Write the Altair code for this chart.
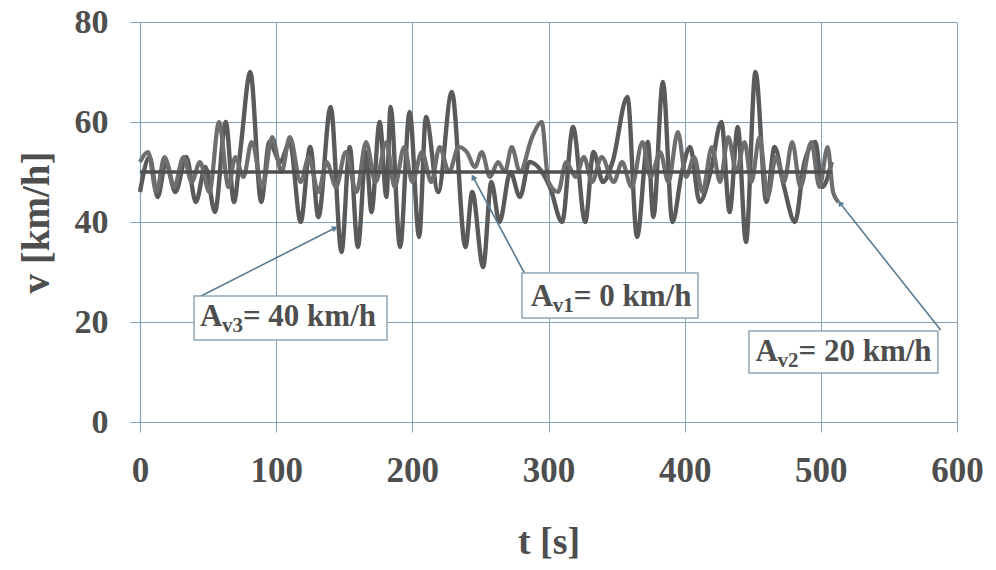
import math
import altair as alt
import pandas as pd

FONT = "Liberation Serif"
TEXT = "#4e4e4e"
GRID = "#86a2b6"
ARROW = "#5b7b91"

# ---- data ----
av1_t = [0, 508]
av1_v = [50, 50]

av2_t = [0, 6, 12, 18, 25, 32, 38, 44, 51, 58, 65, 70, 76, 82, 90, 97, 104, 110, 118, 124,
         131, 137, 144, 151, 159, 166, 173, 181, 187, 194, 200, 207, 214, 220, 227, 234, 240, 246, 251, 257,
         263, 268, 273, 279, 288, 295, 300, 307, 313, 320, 326, 332, 339, 348, 354, 361, 369, 375, 382, 388,
         395, 401, 407, 413, 420, 426, 432, 438, 444, 449, 455, 461, 467, 473, 479, 485, 493, 499, 505, 509, 513]
av2_v = [52, 54, 46, 53, 47, 53, 48, 52, 46, 60, 47, 53, 49, 56, 47, 57, 50, 57, 48, 53,
         46, 52, 47, 54, 46, 56, 48, 56, 47, 55, 48, 54, 48, 55, 50, 55, 54, 51, 54, 49,
         52, 50, 55, 50, 57, 60, 48, 46, 52, 49, 53, 48, 53, 48, 52, 47, 56, 49, 54, 48,
         58, 49, 53, 46, 55, 48, 57, 50, 56, 48, 57, 45, 53, 48, 56, 47, 56, 47, 55, 46, 44]

av3_t = [0, 7, 13, 19, 26, 34, 41, 48, 55, 63, 69, 74, 81, 89, 95, 103, 110, 118, 125, 131,
         140, 148, 154, 160, 166, 170, 176, 181, 184, 191, 198, 205, 210, 219, 229, 239, 244, 252, 258, 264,
         272, 279, 286, 301, 310, 318, 327, 333, 340, 347, 358, 365, 373, 377, 384, 391, 398, 404, 411, 419,
         427, 433, 439, 445, 452, 460, 466, 473, 481, 488, 496, 501, 508]
av3_v = [46, 53, 45, 52, 46, 53, 44, 51, 42, 60, 44, 55, 70, 44, 56, 52, 56, 40, 55, 41,
         63, 34, 55, 35, 54, 42, 60, 45, 63, 35, 62, 37, 61, 46, 66, 35, 46, 31, 48, 40,
         50, 45, 52, 47, 40, 59, 40, 54, 48, 52, 65, 37, 56, 41, 68, 40, 50, 55, 44, 50,
         60, 42, 59, 36, 70, 44, 55, 47, 40, 52, 56, 47, 52]

x_ticks = [0, 100, 200, 300, 400, 500, 600]
y_ticks = [0, 20, 40, 60, 80]

# annotation labels
lab_sub = ["v3", "v1", "v2"]
lab_rest = ["= 40 km/h", "= 0 km/h", "= 20 km/h"]
lab_t = [44, 287, 452]
lab_v = [19.2, 23.2, 12.2]
box_t1 = [39.7, 280.5, 447.2]
box_t2 = [181.4, 409.8, 586.0]
box_v1 = [25.2, 29.8, 18.2]
box_v2 = [16.4, 20.8, 9.8]
arr_t1 = [41.9, 282.7, 588.0]
arr_v1 = [24.8, 29.6, 18.4]
arr_t2 = [143.2, 244.6, 514.0]
arr_v2 = [38.8, 49.0, 43.8]

W, H = 817, 400
XD, YD = [0, 600], [0, 80]

df1 = pd.DataFrame({"t": av1_t, "v": av1_v})
df2 = pd.DataFrame({"t": av2_t, "v": av2_v})
df3 = pd.DataFrame({"t": av3_t, "v": av3_v})
dft = pd.DataFrame({"t": lab_t, "v": lab_v, "a": ["A"] * 3, "sub": lab_sub, "rest": lab_rest})
dfb = pd.DataFrame({"t": box_t1, "t2": box_t2, "v": box_v1, "v2": box_v2})
angles = []
for a, b, c, d in zip(arr_t1, arr_v1, arr_t2, arr_v2):
    dxp = (c - a) * W / (XD[1] - XD[0])
    dyp = -(d - b) * H / (YD[1] - YD[0])
    angles.append(math.degrees(math.atan2(dyp, dxp)) % 360)
dfa = pd.DataFrame({"t": arr_t1, "v": arr_v1, "t2": arr_t2, "v2": arr_v2, "ang": angles})

xs = alt.Scale(domain=XD, nice=False, zero=False)
ys = alt.Scale(domain=YD, nice=False, zero=False)

x_axis = alt.Axis(values=x_ticks, title="t [s]", grid=True, gridColor=GRID, gridWidth=1,
                  domainColor=GRID, domainWidth=1.2, tickColor=GRID, tickSize=10,
                  labelFont=FONT, labelFontSize=35, labelFontWeight="bold", labelColor=TEXT,
                  labelPadding=21, labelFlush=False,
                  titleFont=FONT, titleFontSize=38, titleFontWeight="bold", titleColor=TEXT,
                  titleBaseline="alphabetic", titleY=131)
y_axis = alt.Axis(values=y_ticks, title="v [km/h]", grid=True, gridColor=GRID, gridWidth=1,
                  domainColor=GRID, domainWidth=1.2, tickColor=GRID, tickSize=10,
                  labelFont=FONT, labelFontSize=34, labelFontWeight="bold", labelColor=TEXT,
                  labelPadding=22, labelFlush=False,
                  titleFont=FONT, titleFontSize=39, titleFontWeight="bold", titleColor=TEXT,
                  titleBaseline="alphabetic", titleX=-92, titleY=200, titleAngle=270,
                  titleAlign="center")

X = alt.X("t:Q", scale=xs, axis=x_axis)
Y = alt.Y("v:Q", scale=ys, axis=y_axis)

l3 = alt.Chart(df3).mark_line(color="#5a5a5a", strokeWidth=4.4, interpolate="monotone").encode(x=X, y=Y)
l2 = alt.Chart(df2).mark_line(color="#6e6e6e", strokeWidth=4.2, interpolate="monotone").encode(x=X, y=Y)
l1 = alt.Chart(df1).mark_line(color="#4f4f4f", strokeWidth=3.4).encode(x=X, y=Y)

arrows = alt.Chart(dfa).mark_rule(color=ARROW, strokeWidth=1.6).encode(
    x=X, y=Y, x2="t2:Q", y2="v2:Q")
heads = alt.Chart(dfa).mark_point(shape="triangle-right", filled=True, color=ARROW, size=45,
                                  opacity=1).encode(
    x=alt.X("t2:Q", scale=xs, axis=x_axis), y=alt.Y("v2:Q", scale=ys, axis=y_axis),
    angle=alt.Angle("ang:Q", scale=None))
boxes = alt.Chart(dfb).mark_rect(fill="white", stroke="#8fa7b8", strokeWidth=1.5).encode(
    x=X, y=Y, x2="t2:Q", y2="v2:Q")

tbase = alt.Chart(dft)
tA = tbase.mark_text(align="left", baseline="alphabetic", font=FONT, fontSize=31,
                     fontWeight="bold", color=TEXT).encode(x=X, y=Y, text="a:N")
tS = tbase.mark_text(align="left", baseline="alphabetic", font=FONT, fontSize=21,
                     fontWeight="bold", color=TEXT, dx=22, dy=6).encode(x=X, y=Y, text="sub:N")
tR = tbase.mark_text(align="left", baseline="alphabetic", font=FONT, fontSize=31,
                     fontWeight="bold", color=TEXT, dx=43).encode(x=X, y=Y, text="rest:N")

chart = alt.layer(l3, l2, l1, arrows, heads, boxes, tA, tS, tR).properties(
    width=W, height=H,
    autosize=alt.AutoSizeParams(type="none"),
    padding={"left": 132, "top": 14, "right": 31, "bottom": 140},
    background="white",
).configure_view(stroke=None)

chart.save("out.html", embed_options={"renderer": "svg", "actions": False})
